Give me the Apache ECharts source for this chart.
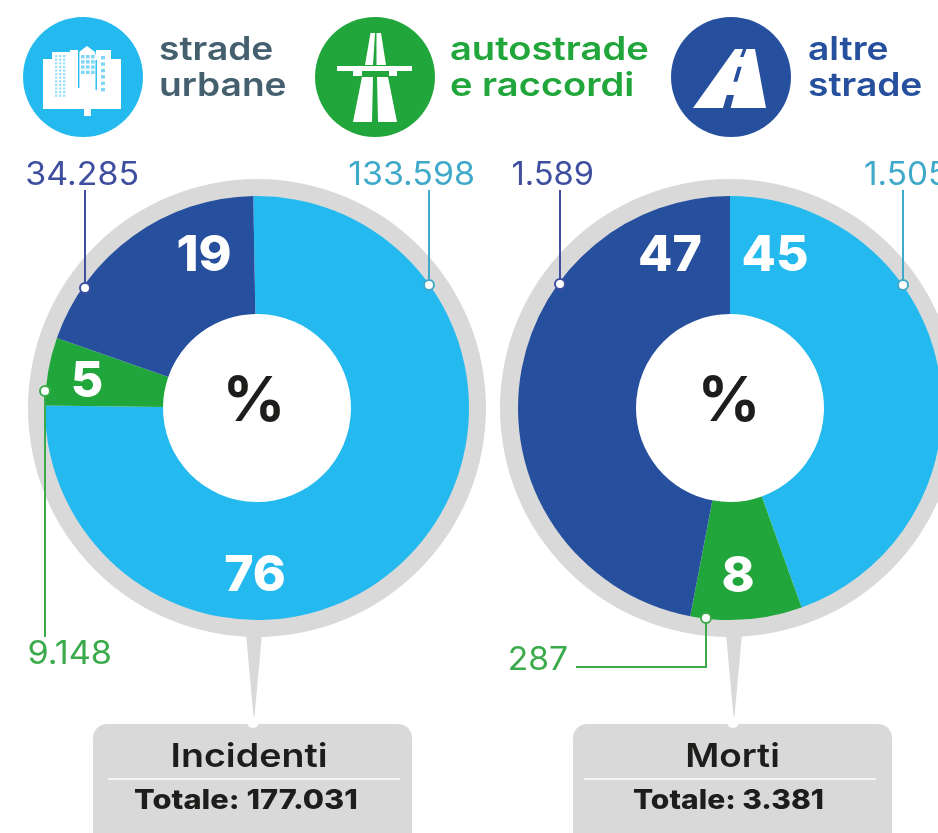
<!DOCTYPE html>
<html>
<head>
<meta charset="utf-8">
<title>Incidenti e morti per tipo di strada</title>
<script src="https://cdn.jsdelivr.net/npm/echarts@6/dist/echarts.min.js"></script>
<style>
  html, body { margin: 0; padding: 0; background: #fff; overflow: hidden; }
  #chart { width: 938px; height: 833px; }
</style>
</head>
<body>
<div id="chart"></div>
<script>
const categories = ['strade urbane', 'autostrade e raccordi', 'altre strade']
const incidenti = [133598, 9148, 34285]
const incidentiPct = [76, 5, 19]
const morti = [1505, 287, 1589]
const mortiPct = [45, 8, 47]
const incidentiTotale = 177031
const mortiTotale = 3381

const CYAN = '#25BAEF'
const GREEN = '#21A63B'
const BLUE = '#26509E'
const GREY = '#D9D9D9'
const INK = '#1D1D1B'
const FONT = 'Inter, "Noto Sans", sans-serif'
const colors = [CYAN, GREEN, BLUE]
const calloutColors = ['#3FA9C9', '#3BAA4B', '#3F4F9F']

const chart = echarts.init(document.getElementById('chart'))

// 1.589 style grouping, it-IT locale would drop the dot on 4 digits
const fmt = v => String(v).replace(/\B(?=(\d{3})+$)/g, '.')

// the original face is wider than Inter, so text gets stretched by wide
function text(x, y, str, size, weight, fill, align, wide) {
  return {
    type: 'text', z: 20, silent: true,
    x, y, scaleX: wide || 1, scaleY: 1,
    style: { text: str, fontFamily: FONT, fontSize: size, fontWeight: weight, fill, align: align || 'left', verticalAlign: 'middle' }
  }
}
function poly(points, fill, z) {
  return { type: 'polygon', z: z || 20, silent: true, shape: { points }, style: { fill } }
}
function rect(x, y, width, height, fill, r, z) {
  return { type: 'rect', z: z || 20, silent: true, shape: { x, y, width, height, r: r || 0 }, style: { fill } }
}
function disc(cx, cy, r, fill, z) {
  return { type: 'circle', z: z || 10, silent: true, shape: { cx, cy, r }, style: { fill } }
}

// thin leader line with the little ring at the slice end
function callout(points, dot, color) {
  return [
    { type: 'polyline', z: 30, silent: true, shape: { points }, style: { stroke: color, lineWidth: 2, fill: null } },
    { type: 'circle', z: 31, silent: true, shape: { cx: dot[0], cy: dot[1], r: 5 }, style: { fill: '#fff', stroke: color, lineWidth: 2 } }
  ]
}

function buildingIcon() {
  const els = [
    rect(43, 59, 78, 50, '#fff'),
    rect(52, 52, 18, 20, '#fff'),
    rect(70, 50, 8, 20, '#fff'),
    poly([[79, 52], [87, 46], [95, 52], [97, 60], [79, 60]], '#fff'),
    rect(96, 50, 15, 20, '#fff'),
    rect(84, 109, 7, 7, '#fff'),
    rect(78, 52, 1.4, 36, CYAN),
    rect(95.5, 60, 1.4, 30, CYAN)
  ]
  for (let r = 0; r < 12; r++) {
    for (let c = 0; c < 3; c++) {
      els.push(rect(55 + c * 4, 55 + r * 3.6, 2.4, 2.2, '#9FE0F8'))
    }
  }
  for (let r = 0; r < 4; r++) {
    for (let c = 0; c < 3; c++) {
      els.push(rect(81 + c * 5, 55 + r * 5.2, 3.6, 3.4, '#7FD6F6'))
    }
  }
  for (let r = 0; r < 6; r++) {
    els.push(rect(101, 56 + r * 6.4, 4, 3.4, '#7FD6F6'))
  }
  return els
}

function highwayIcon() {
  return [
    poly([[370.5, 33], [375, 33], [373, 65], [365, 65]], '#fff'),
    poly([[376.5, 33], [381, 33], [386, 65], [376.5, 65]], '#fff'),
    rect(337, 66, 75, 5, '#fff'),
    rect(353, 71, 9, 5, '#fff'),
    rect(389, 71, 8, 5, '#fff'),
    poly([[362, 77], [373, 77], [372, 122], [353, 122]], '#fff'),
    poly([[377, 77], [388, 77], [397, 122], [378, 122]], '#fff')
  ]
}

function roadIcon() {
  return [
    poly([[735, 49], [755, 49], [766, 108], [693, 108]], '#fff'),
    poly([[743, 49], [746.5, 49], [743.5, 57], [740, 57]], BLUE),
    poly([[737.7, 66.7], [741.7, 66.7], [737.3, 81.7], [733.3, 81.7]], BLUE),
    poly([[726.7, 95], [734, 95], [730.7, 108], [723, 108]], BLUE)
  ]
}

function legendText(x, lines, color, wide) {
  return [
    text(x, 50, lines[0], 32, 600, color, 'left', wide),
    text(x, 86, lines[1], 32, 600, color, 'left', wide)
  ]
}

// grey bezel, stalk and title box under one pie
function pieFrame(cx, tipX, boxX, ruleX) {
  return [
    { type: 'ring', z: 0, silent: true, shape: { cx, cy: 408, r: 229, r0: 205 }, style: { fill: GREY } },
    poly([[tipX - 7, 634], [tipX + 9, 634], [tipX + 1, 722]], GREY, 1),
    rect(boxX, 724, 319, 130, GREY, 14, 1),
    disc(tipX, 722, 6, '#fff', 2),
    rect(ruleX, 778, 292, 2, '#F4F4F4', 0, 3)
  ]
}

function pieSeries(name, center, startAngle, values, pct, labelPos) {
  return {
    name,
    type: 'pie',
    z: 5,
    radius: [94, 212],
    center,
    startAngle,
    clockwise: true,
    silent: true,
    animation: false,
    labelLine: { show: false },
    label: {
      show: true,
      position: 'inside',
      formatter: p => String(pct[p.dataIndex]),
      color: '#fff',
      fontFamily: FONT,
      fontSize: 50,
      fontWeight: 800
    },
    labelLayout: p => ({ x: labelPos[p.dataIndex][0], y: labelPos[p.dataIndex][1], align: 'center', verticalAlign: 'middle' }),
    data: categories.map((c, i) => ({ name: c, value: values[i], itemStyle: { color: colors[i] } }))
  }
}

const graphics = [
  disc(83, 77, 60, CYAN),
  disc(375, 77, 60, GREEN),
  disc(731, 77, 60, BLUE),
  ...buildingIcon(),
  ...highwayIcon(),
  ...roadIcon(),
  ...legendText(159, ['strade', 'urbane'], '#44606F', 1.16),
  ...legendText(450, ['autostrade', 'e raccordi'], GREEN, 1.19),
  ...legendText(808, ['altre', 'strade'], BLUE, 1.16),

  ...pieFrame(257, 253, 93, 108),
  ...pieFrame(729, 733, 573, 584),

  text(249, 757, 'Incidenti', 33, 600, INK, 'center', 1.14),
  text(246, 801, 'Totale: ' + fmt(incidentiTotale), 27, 800, INK, 'center', 1.14),
  text(254, 402, '%', 62, 700, INK, 'center'),
  text(732.5, 757, 'Morti', 33, 600, INK, 'center', 1.12),
  text(728.5, 801, 'Totale: ' + fmt(mortiTotale), 27, 800, INK, 'center', 1.11),
  text(729, 402, '%', 62, 700, INK, 'center'),

  text(475, 175, fmt(incidenti[0]), 32, 400, calloutColors[0], 'right', 1.06),
  text(112, 654, fmt(incidenti[1]), 32, 400, calloutColors[1], 'right', 1.07),
  text(139, 175, fmt(incidenti[2]), 32, 400, calloutColors[2], 'right', 1.06),
  text(864, 175, fmt(morti[0]), 32, 400, calloutColors[0], 'left', 1.04),
  text(568, 660, fmt(morti[1]), 32, 400, calloutColors[1], 'right', 1.05),
  text(594, 175, fmt(morti[2]), 32, 400, calloutColors[2], 'right', 1.02),

  ...callout([[429, 190], [429, 285]], [429, 285], calloutColors[0]),
  ...callout([[45, 637], [45, 391]], [45, 391], calloutColors[1]),
  ...callout([[85, 190], [85, 288]], [85, 288], calloutColors[2]),
  ...callout([[903, 190], [903, 285]], [903, 285], calloutColors[0]),
  ...callout([[576, 667], [706, 667], [706, 618]], [706, 618], calloutColors[1]),
  ...callout([[560, 190], [560, 284]], [560, 284], calloutColors[2])
]

chart.setOption({
  animation: false,
  backgroundColor: '#fff',
  series: [
    pieSeries('Incidenti', [257, 408], 91, incidenti, incidentiPct, [[255, 576], [87, 382], [204, 256]]),
    pieSeries('Morti', [730, 408], 90, morti, mortiPct, [[775, 256], [738, 577], [670, 256]])
  ],
  graphic: { elements: graphics }
})
</script>
</body>
</html>
